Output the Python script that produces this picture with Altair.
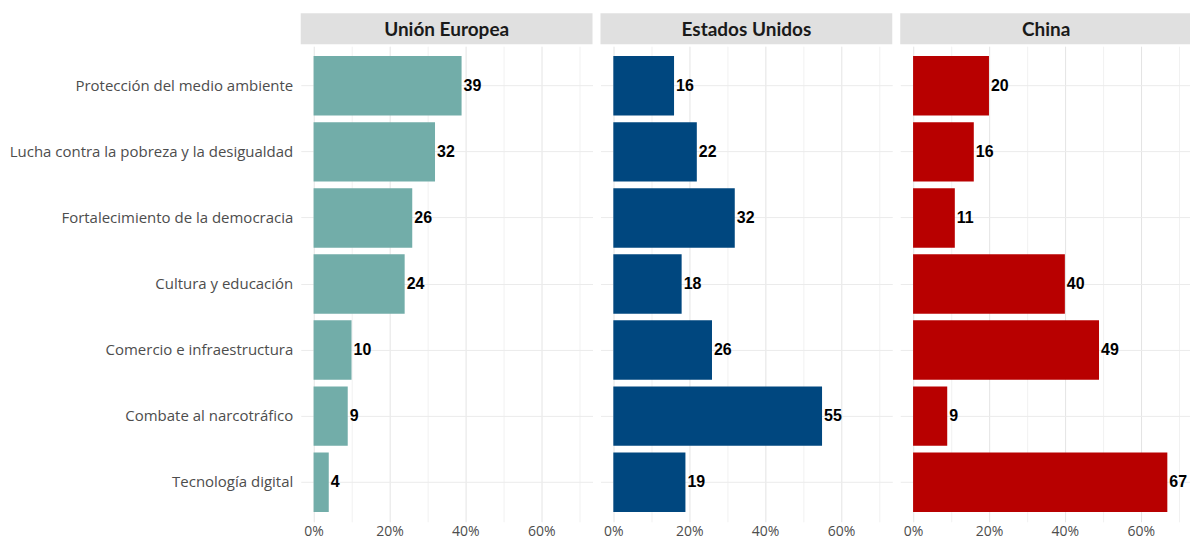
import altair as alt
import pandas as pd

categories = [
    "Protección del medio ambiente",
    "Lucha contra la pobreza y la desigualdad",
    "Fortalecimiento de la democracia",
    "Cultura y educación",
    "Comercio e infraestructura",
    "Combate al narcotráfico",
    "Tecnología digital",
]
regions = ["Unión Europea", "Estados Unidos", "China"]
eu_values = [39, 32, 26, 24, 10, 9, 4]
us_values = [16, 22, 32, 18, 26, 55, 19]
cn_values = [20, 16, 11, 40, 49, 9, 67]
colors = ["#72ADA9", "#00477F", "#B80000"]
tick_values = [0, 10, 20, 30, 40, 50, 60, 70]

W, H, HH = 292, 476, 31
AXW = 292

panels = []
for i, (reg, vals, col) in enumerate(zip(regions, [eu_values, us_values, cn_values], colors)):
    df = pd.DataFrame({"cat": categories, "val": vals})
    first = i == 0
    yaxis = alt.Axis(
        title=None, labels=first, ticks=False, domain=False, grid=True,
        gridColor="#ebebeb", labelFont="Open Sans", labelFontSize=15,
        labelColor="#4d4d4d", labelPadding=8, labelLimit=320,
        minExtent=AXW if first else 0, maxExtent=AXW if first else 0,
    )
    xaxis = alt.Axis(
        title=None, values=tick_values,
        labelExpr="datum.value % 20 === 0 ? datum.value + '%' : ''",
        ticks=False, domain=False, grid=True,
        gridColor={"condition": {"test": "datum.value % 20 === 0", "value": "#e4e4e4"}, "value": "#f1f1f1"},
        labelFont="Open Sans", labelFontSize=14, labelColor="#4d4d4d", labelPadding=3,
    )
    base = alt.Chart(df).encode(
        y=alt.Y("cat:N", sort=categories, axis=yaxis,
                scale=alt.Scale(paddingInner=0.1, paddingOuter=0.15)),
        x=alt.X("val:Q", scale=alt.Scale(domain=[-3.38, 73.5], nice=False, zero=True), axis=xaxis),
    )
    bars = base.mark_bar(color=col)
    text = base.mark_text(align="left", dx=2, font="Liberation Sans", fontWeight="bold",
                          fontSize=16, color="black").encode(text="val:Q")
    body = (bars + text).properties(width=W, height=H)
    hdf = pd.DataFrame({"region": [reg]})
    header = alt.layer(
        alt.Chart(hdf).mark_rect(color="#e0e0e0").encode(
            x=alt.value(0), x2=alt.value(W), y=alt.value(0), y2=alt.value(HH)),
        alt.Chart(hdf).mark_text(font="Lato", fontWeight="bold", fontSize=19, color="#1a1a1a").encode(
            x=alt.value(W / 2), y=alt.value(HH / 2 + 1), text="region:N"),
    ).properties(width=W, height=HH)
    panels.append(alt.vconcat(header, body, spacing=2))

chart = alt.hconcat(*panels, spacing=8).properties(
    padding={"left": 0, "top": 5, "right": -2, "bottom": 3}
).configure_view(strokeWidth=0)

chart.save("out.html", embed_options={"renderer": "svg", "actions": False})
